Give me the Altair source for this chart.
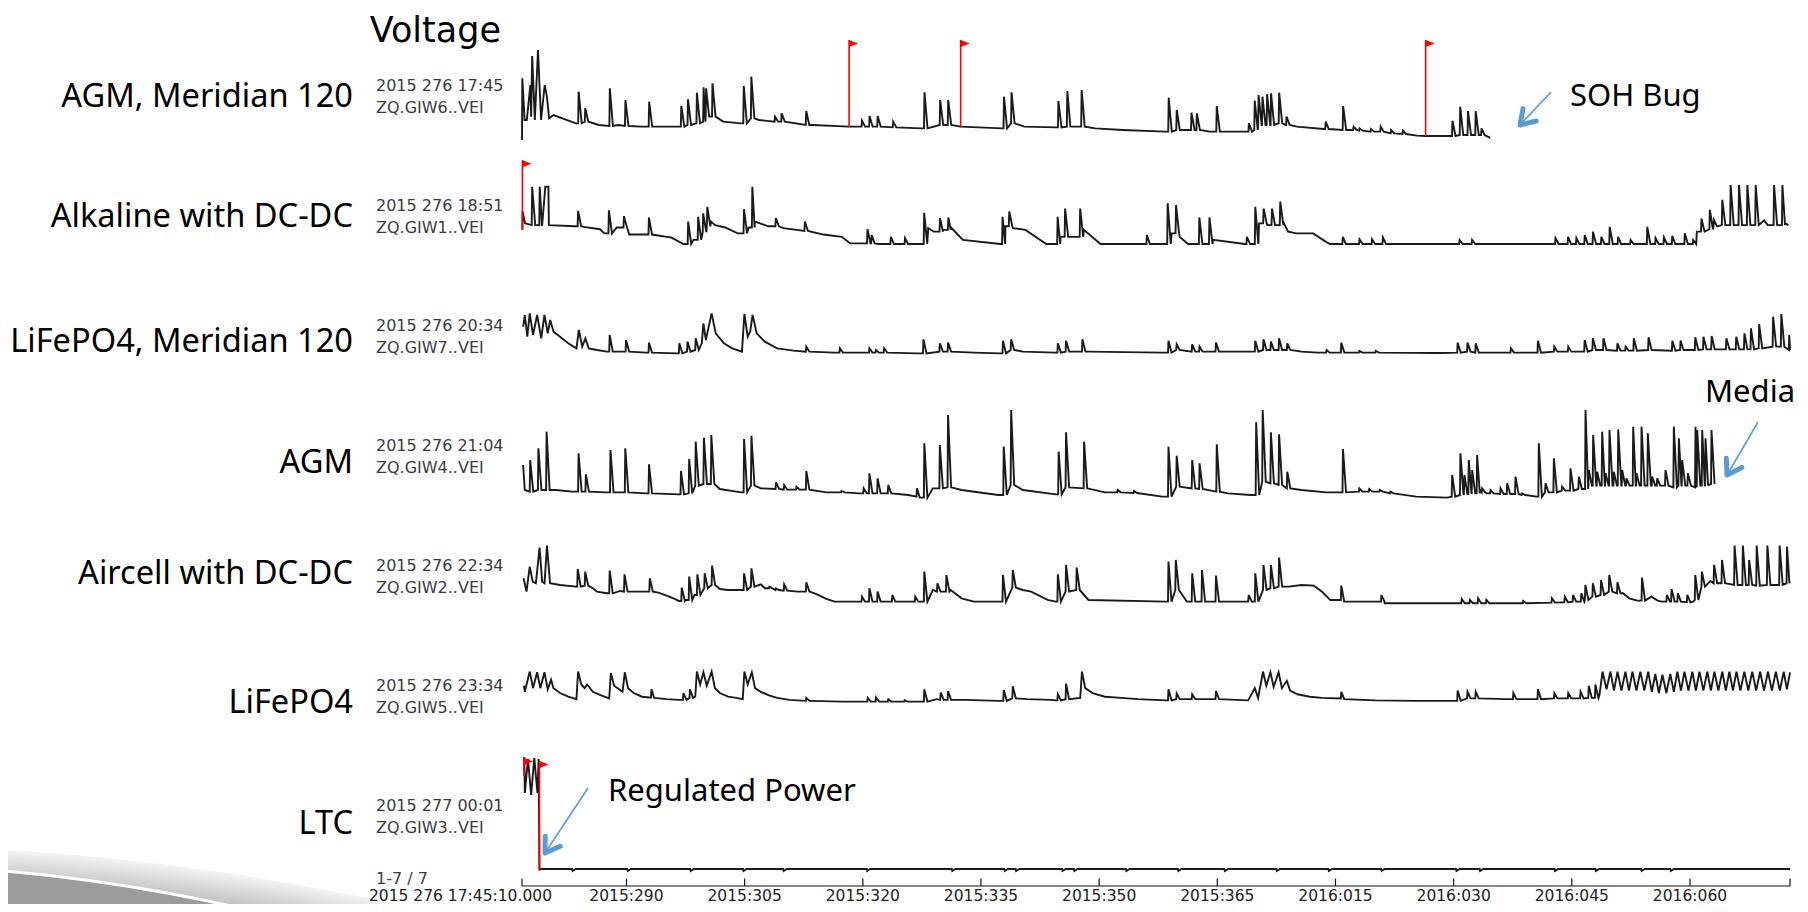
import math
import altair as alt
import pandas as pd

# ---------------- text content ----------------
TITLE = "Voltage"
ROW_LABELS = ["AGM, Meridian 120", "Alkaline with DC-DC", "LiFePO4, Meridian 120", "AGM",
              "Aircell with DC-DC", "LiFePO4", "LTC"]
ROW_STARTS = ["2015 276 17:45", "2015 276 18:51", "2015 276 20:34", "2015 276 21:04",
              "2015 276 22:34", "2015 276 23:34", "2015 277 00:01"]
ROW_STATIONS = ["ZQ.GIW6..VEI", "ZQ.GIW1..VEI", "ZQ.GIW7..VEI", "ZQ.GIW4..VEI",
                "ZQ.GIW2..VEI", "ZQ.GIW5..VEI", "ZQ.GIW3..VEI"]
PAGE_LABEL = "1-7 / 7"
NOTES = ["SOH Bug", "Media", "Regulated Power"]

TICK_DAYS = [276.74, 290, 305, 320, 335, 350, 365, 380, 395, 410, 425, 437.7]
TICK_LABELS = ["2015 276 17:45:10.000", "2015:290", "2015:305", "2015:320", "2015:335",
               "2015:350", "2015:365", "2016:015", "2016:030", "2016:045", "2016:060", ""]

# ---------------- traces: (day, level) vertices, or (day, base, peak) spikes ----------------
TRACE_AGM_M120 = [
    (276.74, 0), (276.78, 185), (277.07, 60), (277.35, 60), (277.8, 165), (277.9, 70), (278.03, 252),
    (278.37, 60), (278.77, 270), (279.16, 60), (279.62, 165), (279.9, 130), (280.18, 65), (280.75, 75),
    (283.58, 50), (283.87, 50, 145), (284.71, 55, 95), (286.5, 45), (287.83, 42, 155), (289.0, 45),
    (289.81, 42, 120), (292.0, 40), (292.82, 40, 115), (296.6, 40), (296.9, 40, 102), (297.75, 45, 122),
    (298.88, 50, 142), (299.73, 55, 158), (300.05, 70, 155), (300.86, 70, 170), (302.28, 55), (304.55, 50),
    (304.83, 50, 162), (305.79, 65, 190), (306.81, 60), (308.8, 55, 70), (309.64, 55, 80), (312.76, 45, 87),
    (313.6, 45), (318.26, 40), (319.84, 40, 58), (320.8, 40, 72), (321.83, 40, 72), (323.8, 38, 55),
    (327.5, 35), (327.77, 35, 143), (329.76, 45, 120), (330.78, 45, 120), (332.42, 40), (337.7, 35),
    (337.86, 35, 130), (338.82, 50, 143), (340.5, 40), (344.5, 38), (344.77, 38, 117), (345.9, 40, 147),
    (347.72, 40, 150), (349.5, 35), (353.0, 30), (358.37, 25), (358.77, 25, 127), (359.79, 30, 90),
    (361.66, 30, 82), (362.34, 30, 80), (364.0, 25), (364.87, 25, 102), (368.7, 25), (368.95, 25, 50),
    (369.69, 30, 118), (370.18, 45, 135), (370.67, 45, 130), (371.26, 45, 138), (371.76, 45, 140),
    (372.79, 50, 142), (373.73, 45, 70), (375.1, 40), (378.5, 33), (378.7, 33, 55), (380.91, 30, 102),
    (382.24, 30, 40), (383.0, 28, 35), (384.45, 25, 33), (385.68, 25, 40), (387.0, 20, 30), (388.5, 18, 28),
    (390.36, 13), (391.44, 12), (394.5, 12), (394.79, 12, 58), (395.77, 15, 100), (396.76, 15, 87),
    (397.74, 15, 87), (398.48, 15, 35), (399.5, 8), (399.6, 5),
]

TRACE_ALKALINE = [
    (276.79, 24), (276.81, 55), (277.13, 35), (277.97, 32, 97), (278.5, 32), (278.93, 32, 97), (279.3, 32),
    (279.7, 97), (280.09, 97), (280.15, 32), (283.48, 30), (283.8, 30, 56), (284.54, 29), (286.65, 25),
    (287.18, 18), (287.71, 18, 57), (288.77, 28), (289.62, 28, 47), (290.36, 16), (292.79, 16, 45),
    (295.12, 12), (295.65, 11), (297.24, 0), (297.77, 0, 38), (298.51, 7), (299.04, 7, 46), (299.68, 20, 52),
    (300.2, 30, 63), (300.73, 38), (301.26, 32), (302.53, 28), (304.12, 18), (304.86, 18, 59), (305.5, 28),
    (305.92, 28, 97), (306.3, 38), (308.0, 30), (308.9, 30, 44), (309.94, 27), (312.59, 22, 38), (315.0, 16),
    (317.35, 12), (318.41, 1), (320.53, 1, 25), (321.06, 1, 15), (322.0, 0), (323.5, 0, 12), (325.3, 0, 10),
    (327.41, 0), (327.73, 0, 53), (328.3, 27), (329.0, 21), (329.74, 21, 44), (330.2, 24), (330.8, 24, 45),
    (331.2, 28), (332.7, 7), (337.47, 0), (337.68, 0, 46), (338.1, 30), (338.53, 30, 55), (339.06, 27),
    (340.65, 24), (343.29, 0), (344.67, 0, 46), (345.1, 12), (345.62, 12, 60), (346.47, 12), (347.53, 12, 60),
    (348.06, 24), (350.17, 0), (356.0, 0, 15), (358.4, 0), (358.64, 0, 69), (359.2, 18), (359.7, 18, 66),
    (360.23, 12), (361.29, 0), (362.66, 0, 45), (363.94, 0, 45), (364.46, 7), (368.5, 0), (368.7, 0, 12),
    (369.5, 0), (369.76, 0, 63), (370.3, 35), (370.82, 35, 60), (371.35, 32), (371.88, 32, 60), (372.4, 32),
    (372.93, 32, 72), (373.46, 35), (373.99, 21), (375.05, 18), (377.17, 18), (378.76, 4), (379.29, 0),
    (380.87, 0, 12), (382.99, 0, 8), (384.58, 0, 8), (385.96, 0, 11), (395.5, 0), (395.7, 0, 7),
    (397.28, 0, 7), (407.5, 0), (407.87, 0, 10), (409.46, 0, 12), (410.52, 0, 10), (411.58, 0, 15),
    (412.63, 0, 21), (413.69, 0, 12), (414.75, 0, 29), (415.81, 0, 12), (417.4, 0, 7), (419.52, 0, 29),
    (420.57, 0, 10), (421.63, 0, 11), (422.69, 0, 14), (424.28, 0, 18), (425.34, 0, 7), (425.87, 21),
    (426.4, 21, 43), (427.46, 25, 58), (427.98, 30, 41), (429.04, 32, 75), (430.1, 32, 100), (431.16, 32, 100),
    (432.22, 32, 100), (433.28, 32, 100), (434.4, 40), (434.87, 32), (435.61, 32, 100), (436.67, 32, 100),
    (437.09, 35), (437.5, 32),
]

TRACE_LIFEPO4_M120 = [
    (276.89, 85), (277.1, 120), (277.41, 55), (277.72, 125), (278.14, 60), (278.66, 120), (279.18, 50),
    (279.59, 120), (280.01, 65), (280.32, 105), (280.74, 70), (281.57, 55), (282.61, 35), (283.65, 20),
    (283.96, 75), (284.38, 25), (284.79, 50), (285.21, 20), (286.25, 15), (287.5, 10), (287.81, 10, 60),
    (289.37, 10), (289.89, 10, 45), (292.49, 7), (292.8, 7, 37), (296.44, 5), (296.65, 5, 35),
    (297.69, 10, 40), (298.73, 15, 50), (299.56, 35), (299.77, 95), (300.08, 45), (300.39, 80), (300.81, 125),
    (301.33, 65), (302.37, 35), (303.41, 20), (304.66, 10), (304.97, 123), (305.39, 55), (305.7, 70),
    (306.01, 120), (306.53, 65), (307.57, 40), (309.13, 20), (311.21, 13), (312.77, 10, 25), (316.41, 7),
    (317.03, 7, 20), (320.78, 7, 20), (321.61, 7, 15), (322.65, 7, 20), (326.81, 5), (327.64, 5, 47),
    (329.72, 10, 35), (330.76, 10, 37), (334.09, 7), (337.42, 5), (337.73, 5, 43), (338.77, 15, 47),
    (340.33, 10), (344.49, 7), (344.7, 7, 35), (345.74, 10, 43), (347.82, 10, 47), (348.65, 10), (358.01, 7),
    (358.74, 7, 43), (359.78, 15, 32), (361.75, 10, 32), (362.69, 10, 25), (364.77, 10, 37), (369.24, 10),
    (369.76, 10, 43), (370.8, 15, 47), (371.74, 15, 40), (372.78, 15, 50), (373.82, 15, 35), (375.69, 10),
    (377.77, 7), (378.81, 7, 15), (380.68, 7, 37), (382.97, 7, 12), (385.05, 7, 12), (393.37, 6),
    (395.45, 7, 37), (396.7, 10, 37), (397.74, 7, 35), (402.21, 7, 20), (405.33, 7), (405.64, 7, 43),
    (407.72, 10, 25), (409.49, 10, 25), (411.57, 10, 45), (412.61, 15, 50), (413.96, 15, 50), (415.73, 13, 35),
    (416.77, 13, 25), (417.81, 13, 50), (419.68, 15, 53), (422.7, 13, 43), (423.74, 15, 43), (425.61, 15, 53),
    (426.65, 17, 55), (427.69, 17, 57), (429.56, 17, 50), (430.81, 17, 55), (431.85, 17, 65), (432.68, 17, 80),
    (433.72, 20, 93), (435.49, 25, 115), (436.53, 25, 123), (437.55, 15), (437.6, 60), (437.7, 15),
]

TRACE_AGM = [
    (276.88, 102), (277.1, 27), (277.72, 22, 117), (278.76, 27, 152), (279.8, 27, 202), (281.05, 27),
    (283.13, 22), (283.86, 22, 137), (284.79, 22, 74), (287.29, 20), (287.91, 20, 147), (289.79, 20, 152),
    (292.49, 17), (292.8, 17, 104), (296.65, 14), (296.86, 14, 84), (297.9, 17, 120), (298.73, 40, 172),
    (299.77, 45, 184), (300.71, 45, 192), (301.85, 30), (304.55, 20), (304.87, 20, 180), (305.8, 40, 190),
    (307.05, 32), (308.92, 30, 50), (309.96, 28, 42), (311.52, 28, 37), (312.77, 28, 84), (315.37, 20),
    (317.24, 20, 24), (319.53, 17), (320.05, 17, 32), (320.78, 17, 77), (321.82, 17, 62), (323.17, 17, 42),
    (325.77, 12), (326.81, 7, 32), (327.23, 4), (327.75, 4, 167), (328.89, 32), (329.72, 32, 162),
    (330.76, 35, 252), (332.53, 27), (337.21, 12), (337.83, 12, 157), (338.77, 42, 267), (340.33, 27),
    (344.49, 14), (344.8, 14, 142), (345.74, 35, 200), (348.03, 32, 172), (350.73, 20), (352.29, 20, 27),
    (354.37, 18, 24), (358.01, 7), (358.74, 7, 157), (359.78, 37, 130), (361.75, 32, 117), (362.69, 30, 107),
    (364.87, 22, 164), (366.33, 17), (369.24, 12), (369.87, 12, 230), (370.7, 52, 267), (371.74, 47, 200),
    (372.78, 42, 194), (373.82, 32, 82), (375.69, 27), (378.81, 20), (380.89, 20, 150), (382.97, 22, 32),
    (384.22, 22, 30), (385.57, 22, 27), (386.92, 17, 22), (390.25, 7), (394.2, 4), (394.75, 7, 72),
    (395.8, 12, 137), (396.3, 15, 72), (396.86, 15, 117), (397.29, 17, 87), (397.92, 17, 132), (398.35, 27),
    (398.56, 20, 32), (399.2, 17), (399.62, 17, 27), (400.89, 15, 32), (401.73, 15, 47), (402.79, 15, 67),
    (403.64, 12, 17), (405.54, 7), (405.75, 7, 167), (406.6, 20, 47), (407.66, 20, 122), (408.71, 25, 37),
    (409.77, 25, 92), (410.83, 30, 67), (411.68, 30, 267), (412.1, 40, 87), (412.65, 40, 192), (413.16, 40, 82),
    (413.79, 40, 202), (414.22, 40, 77), (414.72, 40, 207), (415.27, 40, 82), (415.83, 40, 209),
    (416.33, 40, 87), (416.88, 40, 62), (417.73, 40, 217), (418.15, 40, 77), (418.79, 40, 217),
    (419.59, 40, 197), (420.14, 40, 67), (420.78, 40, 62), (421.83, 40, 87), (422.89, 35, 217),
    (423.53, 40, 182), (423.95, 40, 117), (424.67, 40, 77), (425.64, 35, 217), (425.86, 40, 207),
    (426.49, 40, 207), (426.91, 40, 182), (427.33, 42), (427.67, 45, 207),
]

TRACE_AIRCELL = [
    (276.94, 75), (277.31, 35), (277.72, 110), (278.1, 65), (278.5, 60), (278.97, 167), (279.3, 65),
    (279.6, 60), (279.91, 173), (280.3, 60), (281.57, 55), (283.6, 50), (283.75, 50, 103), (284.7, 53, 95),
    (285.73, 45), (286.25, 35), (287.5, 30), (287.81, 30, 98), (289.2, 37), (289.69, 35, 87), (291.45, 35),
    (292.9, 35, 75), (294.05, 32), (295.09, 23), (296.13, 13), (296.65, 7), (296.96, 7, 47), (297.48, 10),
    (297.9, 10, 80), (298.63, 25), (298.94, 25, 87), (299.87, 45, 90), (300.81, 55, 113), (301.85, 43),
    (302.89, 40), (304.45, 40), (304.87, 40, 90), (305.8, 50, 105), (307.05, 57), (307.57, 45),
    (308.09, 45, 50), (308.92, 40, 45), (309.96, 38, 57), (311.73, 35), (312.77, 35, 63), (313.3, 35),
    (314.33, 25), (315.37, 13), (316.41, 5), (319.84, 5, 20), (320.78, 5, 45), (321.82, 5, 35),
    (323.69, 5, 25), (326.6, 5, 20), (327.54, 5), (327.75, 5, 95), (328.89, 40), (329.41, 35, 60),
    (330.55, 35, 85), (331.17, 40), (332.53, 15), (334.09, 5), (337.21, 5), (337.73, 5, 85), (338.98, 47, 100),
    (340.33, 40), (341.37, 35), (343.45, 10), (344.49, 5), (344.7, 5, 87), (345.74, 35, 115), (347.09, 40, 107),
    (348.65, 10), (358.53, 5), (358.74, 5, 125), (359.67, 40, 130), (361.13, 5), (361.75, 5, 90),
    (363.0, 5, 100), (364.77, 5, 83), (368.4, 5), (368.92, 5, 25), (369.45, 5), (369.76, 5, 90),
    (370.8, 40, 115), (371.74, 45, 115), (372.78, 50, 137), (374.13, 50), (375.69, 55), (377.25, 53),
    (378.29, 35), (379.33, 10), (380.68, 10, 53), (381.1, 5), (385.05, 5), (385.77, 5, 25), (386.25, 0),
    (394.41, 0), (395.97, 0, 13), (397.01, 0, 10), (398.05, 0, 15), (399.09, 0, 10), (403.77, 0, 7),
    (407.41, 2, 15), (409.05, 3, 20), (410.1, 5, 25), (411.14, 5, 30), (411.66, 10, 55), (412.61, 20, 60),
    (413.65, 25, 70), (414.69, 35, 85), (415.73, 30, 63), (416.5, 30), (417.3, 15), (418.3, 8),
    (418.85, 8, 77), (420.1, 20), (420.9, 8), (421.4, 5), (422.0, 5, 25), (422.6, 5, 43), (423.4, 5, 30),
    (424.6, 3, 25), (425.4, 5), (425.61, 10, 85), (426.45, 50, 95), (427.6, 67), (428.0, 60, 115),
    (429.0, 60, 130), (430.6, 55, 173), (431.65, 55, 173), (432.45, 55, 130), (433.41, 53, 173),
    (434.76, 55, 173), (436.32, 55, 173), (437.26, 60, 170), (437.65, 65),
]

TRACE_LIFEPO4 = [
    (276.98, 120), (277.1, 95), (277.72, 178), (278.14, 110), (278.66, 175), (279.07, 110), (279.59, 175),
    (280.01, 105), (280.43, 145), (280.74, 110), (281.57, 90), (282.61, 75), (283.65, 65), (283.86, 178),
    (284.27, 125), (284.69, 110), (285.0, 125), (285.73, 95), (286.77, 80), (287.81, 68), (288.02, 172),
    (288.43, 120), (289.5, 95), (289.79, 175), (290.2, 110), (290.93, 90), (291.97, 75), (292.9, 72),
    (293.11, 72, 105), (293.53, 70), (295.09, 65), (296.65, 62), (297.17, 62, 90), (298.0, 70, 105),
    (298.73, 75), (298.94, 178), (299.35, 125), (299.77, 175), (300.19, 120), (300.81, 178), (301.23, 110),
    (301.85, 90), (302.89, 75), (303.93, 70), (304.76, 65), (304.97, 178), (305.39, 125), (305.91, 175),
    (306.32, 110), (307.05, 95), (308.09, 80), (309.13, 70), (310.69, 62), (311.73, 60), (312.77, 58, 70),
    (313.29, 58), (317.45, 55), (320.57, 55, 70), (321.61, 55, 72), (323.17, 55, 65), (325.25, 55, 60),
    (327.33, 55), (327.75, 55, 105), (329.41, 65), (329.83, 62, 92), (330.76, 62, 98), (333.05, 62),
    (337.21, 58), (337.83, 58, 102), (338.98, 68, 118), (340.85, 65), (343.97, 62), (344.49, 60),
    (344.7, 60, 85), (345.74, 65, 128), (347.6, 70), (347.82, 178), (348.23, 110), (349.17, 90), (350.73, 75),
    (352.81, 70), (354.89, 65), (358.53, 60), (358.74, 60, 105), (359.78, 65, 88), (361.75, 65, 85),
    (364.77, 65, 98), (368.92, 60), (369.76, 110), (370.18, 70), (370.8, 178), (371.22, 120), (371.74, 175),
    (372.15, 115), (372.78, 175), (373.2, 110), (373.82, 140), (374.24, 100), (375.17, 85), (376.73, 75),
    (378.29, 70), (380.68, 68, 95), (381.1, 65), (385.05, 60), (390.25, 58), (394.41, 58), (395.45, 58, 100),
    (396.7, 68, 95), (397.74, 68, 95), (401.69, 65), (402.52, 65, 90), (405.33, 65), (405.64, 65, 105),
    (407.72, 68, 90), (409.49, 68, 90), (411.05, 68, 95), (412.09, 70, 120), (412.93, 70, 125), (413.5, 80),
    (413.9, 178), (414.4, 105), (414.9, 178), (415.35, 100), (415.8, 178), (416.3, 100), (416.8, 178),
    (417.25, 100), (417.7, 178), (418.2, 100), (418.7, 178), (419.2, 100), (419.7, 178), (420.15, 95),
    (420.6, 168), (421.05, 90), (421.5, 165), (422.0, 90), (422.5, 168), (422.95, 95), (423.4, 178),
    (423.85, 100), (424.3, 178), (424.8, 100), (425.3, 178), (425.75, 100), (426.2, 178), (426.7, 100),
    (427.2, 178), (427.65, 100), (428.1, 178), (428.6, 100), (429.1, 178), (429.55, 100), (430.0, 178),
    (430.45, 100), (430.9, 178), (431.4, 100), (431.9, 178), (432.4, 100), (432.9, 178), (433.4, 100),
    (433.9, 178), (434.4, 100), (434.9, 178), (435.4, 100), (435.9, 178), (436.4, 100), (436.9, 178),
    (437.3, 105), (437.7, 175),
]

TRACE_LTC = [
    (277.0, 100), (277.03, 114), (277.1, 78), (277.5, 112), (277.9, 76), (278.3, 113), (278.7, 78),
    (278.85, 112), (278.95, 2), (283.1, 2, 0), (290.1, 2, 0), (298.1, 2, 0), (304.8, 2, 0), (309.9, 2, 0),
    (320.5, 2, 0), (331.3, 2, 0), (337.96, 2, 0), (339.4, 2, 0), (345.3, 2, 0), (346.8, 2, 0), (353.4, 2, 0),
    (360.0, 2, 0), (365.9, 2, 0), (372.5, 2, 0), (379.1, 2, 0), (385.8, 2, 0), (395.3, 2, 0), (398.3, 2, 0),
    (407.8, 2, 0), (413.0, 2, 0), (418.8, 2, 0), (422.5, 2, 0), (437.7, 2),
]

TRACES = [TRACE_AGM_M120, TRACE_ALKALINE, TRACE_LIFEPO4_M120, TRACE_AGM,
          TRACE_AIRCELL, TRACE_LIFEPO4, TRACE_LTC]

# event flags: row, day, level at foot, level at top
FLAG_ROWS = [0, 0, 0, 1, 6, 6]
FLAG_DAYS = [318.26, 332.42, 391.44, 276.79, 277.0, 278.96]
FLAG_FOOT = [40, 40, 12, 24, 95, 0]
FLAG_TOP = [300, 300, 300, 142, 113, 110]

# ---------------- layout (page pixels) ----------------
PX_PER_DAY = 7.878
DAY0, DAY0_PX = 276.74, 522.0


def day_at(px):
    return DAY0 + (px - DAY0_PX) / PX_PER_DAY


X_SCALE = alt.Scale(domain=[day_at(8), day_at(1800)], nice=False, zero=False)
Y_SCALE = alt.Scale(domain=[8, 904], reverse=True, nice=False, zero=False)

ROW_BASE = [140, 244, 355, 499, 603.3, 715, 871]
ROW_GAIN = [1 / 3, 0.59, 1 / 3, 1 / 3, 1 / 3, 0.244, 1.0]
ROW_LABEL_Y = [97, 217, 342, 463, 574, 703, 824]
SMALL_Y = [86, 206, 326, 446, 566, 686, 806]
SMALL_GAP = 22

TRACE_COLOR = "#1a1a1a"
FLAG_COLOR = "#ff0000"
ARROW_COLOR = "#5b9bd5"
PENNANT = "M0,0L9,3.5L0,7Z"
CHEVRON = "M-14,-9L0,0L-14,9"

NOTE_POS = [(1570, 97), (1705, 393), (608, 792)]
ARROWS = [((1551, 92), (1520, 125)), ((1758, 422), (1727, 475)), ((588, 788), (545, 853))]


def expand(seq):
    pts = []
    for k, item in enumerate(seq):
        if len(item) == 2:
            pts.append((item[0], item[1]))
        else:
            d, b, p = item
            nxt = seq[k + 1][0] if k + 1 < len(seq) else d + 1
            end = min(d + 0.45, nxt - 0.03)
            pts += [(d, b), (d + 0.06, p), (end, b)]
    return pts


rows = []
for r, seq in enumerate(TRACES):
    for i, (d, v) in enumerate(expand(seq)):
        rows.append({"row": r, "i": i, "day": d, "y": ROW_BASE[r] - v * ROW_GAIN[r]})
trace_df = pd.DataFrame(rows)

flag_df = pd.DataFrame({
    "day": FLAG_DAYS,
    "y0": [ROW_BASE[r] - v * ROW_GAIN[r] for r, v in zip(FLAG_ROWS, FLAG_FOOT)],
    "y1": [ROW_BASE[r] - v * ROW_GAIN[r] for r, v in zip(FLAG_ROWS, FLAG_TOP)],
})

X = alt.X("day:Q", scale=X_SCALE, axis=None)


def Y(field):
    return alt.Y(f"{field}:Q", scale=Y_SCALE, axis=None)


# decorative slide swoosh (bottom-left)
deco = pd.DataFrame({"k": [0]})
band = alt.Chart(deco).mark_point(
    shape="circle", filled=True, opacity=1, size=4 * 2550 ** 2,
    color=alt.Gradient(gradient="radial", x1=0.5, y1=0.5, x2=0.5, y2=0.5, r1=0, r2=0.5,
                       stops=[alt.GradientStop(offset=0.984, color="#b0b0b0"),
                              alt.GradientStop(offset=1.0, color="#f4f4f4")]),
).encode(x=alt.value(-158), y=alt.value(3387))
swoosh = alt.Chart(deco).mark_circle(
    filled=True, opacity=1, size=4 * 1750 ** 2, color="#9c9c9c",
    stroke="#ffffff", strokeWidth=3, strokeOpacity=1,
).encode(x=alt.value(-158), y=alt.value(2606))

lines = alt.Chart(trace_df).mark_line(color=TRACE_COLOR, strokeWidth=1.9).encode(
    x=X, y=Y("y"), detail="row:N", order="i:Q")

poles = alt.Chart(flag_df).mark_rule(color=FLAG_COLOR, strokeWidth=1.6).encode(
    x=X, y=Y("y1"), y2="y0:Q")
pennants = alt.Chart(flag_df).mark_point(
    shape=PENNANT, size=4, filled=True, opacity=1, color=FLAG_COLOR, strokeWidth=0).encode(
    x=X, y=Y("y1"))

# axis
axis_line = alt.Chart(pd.DataFrame({"day": [TICK_DAYS[0]], "day2": [TICK_DAYS[-1]], "y": [886]})).mark_rule(
    color="#111111", strokeWidth=1.2).encode(x=X, x2="day2:Q", y=Y("y"))
tick_df = pd.DataFrame({"day": TICK_DAYS, "label": TICK_LABELS, "y0": 878.5, "y1": 886, "ty": 896})
ticks = alt.Chart(tick_df).mark_rule(color="#111111", strokeWidth=1.2).encode(x=X, y=Y("y0"), y2="y1:Q")
tick_text = alt.Chart(tick_df.iloc[1:]).mark_text(
    font="DejaVu Sans", fontSize=15.5, color="#222222", align="center", baseline="middle").encode(
    x=X, y=Y("ty"), text="label:N")
first_text = alt.Chart(tick_df.iloc[:1]).mark_text(
    font="DejaVu Sans", fontSize=15.5, color="#222222", align="right", baseline="middle", dx=30).encode(
    x=X, y=Y("ty"), text="label:N")

# labels
title = alt.Chart(pd.DataFrame({"t": [TITLE], "y": [41.5]})).mark_text(
    font="DejaVu Sans", fontSize=35, color="#000000", align="right", baseline="alphabetic").encode(
    x=alt.value(493), y=Y("y"), text="t:N")
row_text = alt.Chart(pd.DataFrame({"t": ROW_LABELS, "y": ROW_LABEL_Y})).mark_text(
    font="Noto Sans", fontSize=32.6, color="#000000", align="right", baseline="middle").encode(
    x=alt.value(345), y=Y("y"), text="t:N")
small_df = pd.DataFrame({
    "t": ROW_STARTS + ROW_STATIONS + [PAGE_LABEL],
    "y": SMALL_Y + [v + SMALL_GAP for v in SMALL_Y] + [879],
})
small_text = alt.Chart(small_df).mark_text(
    font="DejaVu Sans", fontSize=16, color="#3c3c3c", align="left", baseline="middle").encode(
    x=alt.value(368), y=Y("y"), text="t:N")
note_df = pd.DataFrame({"t": NOTES, "day": [day_at(p[0]) for p in NOTE_POS], "y": [p[1] for p in NOTE_POS]})
notes = alt.Chart(note_df).mark_text(
    font="Noto Sans", fontSize=31, color="#000000", align="left", baseline="middle").encode(
    x=X, y=Y("y"), text="t:N")

arrow_df = pd.DataFrame({
    "day": [day_at(a[0][0]) for a in ARROWS],
    "day2": [day_at(a[1][0]) for a in ARROWS],
    "y": [a[0][1] for a in ARROWS],
    "y2": [a[1][1] for a in ARROWS],
    "ang": [math.degrees(math.atan2(a[1][1] - a[0][1], a[1][0] - a[0][0])) % 360 for a in ARROWS],
})
shafts = alt.Chart(arrow_df).mark_rule(color=ARROW_COLOR, strokeWidth=1.6).encode(
    x=X, x2="day2:Q", y=Y("y"), y2="y2:Q")
heads = alt.Chart(arrow_df).mark_point(
    shape=CHEVRON, size=4, filled=False, opacity=1, color=ARROW_COLOR, strokeWidth=5,
    strokeCap="round", strokeJoin="round").encode(
    x=alt.X("day2:Q", scale=X_SCALE, axis=None), y=Y("y2"), angle=alt.Angle("ang:Q", scale=None))

chart = alt.layer(
    band, swoosh, lines, poles, pennants, axis_line, ticks, tick_text, first_text,
    title, row_text, small_text, notes, shafts, heads,
).properties(
    width=1792, height=896, padding=0,
    autosize=alt.AutoSizeParams(type="none"),
).configure_view(stroke=None)

chart.save("out.html", embed_options={"renderer": "svg", "actions": False})
